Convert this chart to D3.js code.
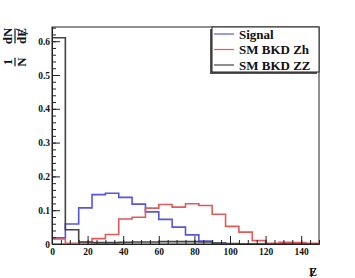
<!DOCTYPE html>
<html>
<head>
<meta charset="utf-8">
<script src="https://cdn.jsdelivr.net/npm/d3@7"></script>
<style>
  body { margin: 0; background: #fff; }
  text { font-family: "Liberation Serif", "Times New Roman", serif; font-weight: bold; }
</style>
</head>
<body>
<div id="chart"></div>
<script>
// bin edges: 20 bins of 7.5 GeV from 0 to 150
var binWidth = 7.5;
var seriesNames = ["Signal", "SM BKD Zh", "SM BKD ZZ"];
var seriesColors = ["#5555e3", "#df5a5a", "#444444"];

// normalised entries per bin
var signal = [0.018, 0.059, 0.107, 0.146, 0.150, 0.138, 0.118, 0.095, 0.073, 0.050,
              0.027, 0.009, 0.002, 0, 0, 0, 0, 0, 0, 0];
var bkdZh  = [0.015, 0.002, 0.005, 0.016, 0.028, 0.074, 0.079, 0.106, 0.117, 0.109,
              0.119, 0.114, 0.088, 0.052, 0.035, 0.010, 0.002, 0.005, 0.004, 0.002];
var bkdZZ  = [0.610, 0.042, 0.006, 0.004, 0.004, 0.005, 0.006, 0.006, 0.007, 0.007,
              0.007, 0.006, 0.003, 0.001, 0, 0, 0, 0, 0, 0];

var xTicks = [0, 20, 40, 60, 80, 100, 120, 140];
var yTicks = [0, 0.1, 0.2, 0.3, 0.4, 0.5, 0.6];

var svgWidth = 355, svgHeight = 278;
var margin = { top: 27, right: 36, bottom: 34, left: 52 };
var width = svgWidth - margin.left - margin.right;
var height = svgHeight - margin.top - margin.bottom;

var svg = d3.select("#chart").append("svg")
  .attr("width", svgWidth)
  .attr("height", svgHeight);

var g = svg.append("g")
  .attr("transform", "translate(" + margin.left + "," + margin.top + ")");

var x = d3.scaleLinear().domain([0, 150]).range([0, width]);
var y = d3.scaleLinear().domain([0, 0.642]).range([height, 0]);

// frame
g.append("rect")
  .attr("width", width).attr("height", height)
  .attr("fill", "none").attr("stroke", "#222").attr("stroke-width", 1);

// histograms as steps
var line = d3.line()
  .x(function (d) { return x(d[0]); })
  .y(function (d) { return y(d[1]); })
  .curve(d3.curveStepAfter);

[signal, bkdZh, bkdZZ].forEach(function (vals, i) {
  var pts = vals.map(function (v, j) { return [j * binWidth, v]; });
  pts.push([vals.length * binWidth, vals[vals.length - 1]]);
  g.append("path")
    .attr("d", line(pts))
    .attr("fill", "none")
    .attr("stroke", seriesColors[i])
    .attr("stroke-width", 1.6);
});

// axes (ticks inside the frame)
var yAxis = d3.axisLeft(y).tickValues(yTicks).tickSizeInner(-8).tickSizeOuter(0).tickPadding(2)
  .tickFormat(function (d) { return d === 0 ? "0" : d3.format(".1f")(d); });
var yMinor = d3.axisLeft(y).tickValues(d3.range(0, 0.641, 0.02)).tickSizeInner(-4).tickSizeOuter(0).tickFormat("");
var xAxis = d3.axisBottom(x).tickValues(xTicks).tickSizeInner(-8).tickSizeOuter(0).tickPadding(4);
var xMinor = d3.axisBottom(x).tickValues(d3.range(0, 151, 5)).tickSizeInner(-4).tickSizeOuter(0).tickFormat("");

[[yMinor, false], [yAxis, false], [xMinor, true], [xAxis, true]].forEach(function (a) {
  var ag = g.append("g").call(a[0]).attr("font-family", null).attr("font-size", null);
  if (a[1]) ag.attr("transform", "translate(0," + height + ")");
  ag.select(".domain").attr("stroke", "#222");
  ag.selectAll(".tick line").attr("stroke", "#222");
  ag.selectAll("text").style("font-size", "9.5px").attr("fill", "#111")
    .style("font-family", "'Liberation Serif', serif").style("font-weight", "bold");
});

// legend
var lx = 212, ly = 27, lw = 107, lh = 45;
svg.append("rect").attr("x", lx - 2).attr("y", ly + 2).attr("width", lw).attr("height", lh).attr("fill", "#555");
svg.append("rect").attr("x", lx).attr("y", ly).attr("width", lw).attr("height", lh)
  .attr("fill", "#fff").attr("stroke", "#222").attr("stroke-width", 1);
seriesNames.forEach(function (name, i) {
  var cy = ly + 7 + i * 15.5;
  svg.append("line").attr("x1", lx + 2).attr("x2", lx + 22).attr("y1", cy).attr("y2", cy)
    .attr("stroke", seriesColors[i]).attr("stroke-width", 1.2);
  svg.append("text").attr("x", lx + 27).attr("y", cy + 4.5)
    .style("font-size", "13px").attr("fill", "#111").text(name);
});

// x title: E with slash (missing energy)
svg.append("text").attr("x", 313).attr("y", 276).attr("text-anchor", "middle")
  .style("font-size", "12px").attr("fill", "#111").text("E");
svg.append("line").attr("x1", 316).attr("y1", 268).attr("x2", 311).attr("y2", 277)
  .attr("stroke", "#111").attr("stroke-width", 1.1);

// y title: 1/N dN/dE(slash), rotated
var yt = svg.append("g").attr("transform", "translate(15,50) rotate(-90)");
function frac(cx, num, den, slash) {
  yt.append("text").attr("x", cx).attr("y", -3).attr("text-anchor", "middle")
    .style("font-size", "13px").attr("fill", "#111").text(num);
  yt.append("text").attr("x", cx).attr("y", 11).attr("text-anchor", "middle")
    .style("font-size", "13px").attr("fill", "#111").text(den);
  var w = Math.max(num.length, den.length) * 6.5;
  yt.append("line").attr("x1", cx - w / 2 - 1).attr("x2", cx + w / 2 + 1).attr("y1", 0).attr("y2", 0)
    .attr("stroke", "#111").attr("stroke-width", 1.2);
  if (slash) {
    yt.append("line").attr("x1", cx + 7).attr("y1", 1).attr("x2", cx + 2).attr("y2", 13)
      .attr("stroke", "#111").attr("stroke-width", 1);
  }
}
frac(-12, "1", "N", false);
frac(14, "dN", "dE", true);
</script>
</body>
</html>
